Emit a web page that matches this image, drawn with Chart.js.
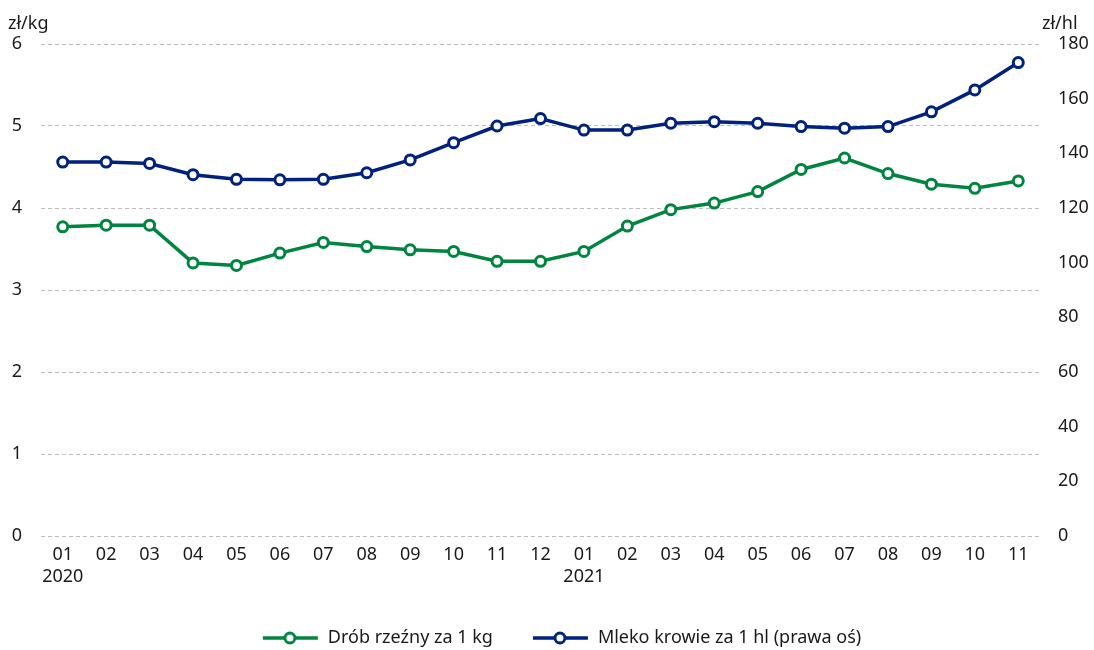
<!DOCTYPE html>
<html>
<head>
<meta charset="utf-8">
<script src="https://cdn.jsdelivr.net/npm/chart.js@4"></script>
<style>
  body { margin: 0; background: #fff; }
  #box { width: 1094px; height: 650px; }
</style>
</head>
<body>
<div id="box"><canvas id="myChart"></canvas></div>
<script>
// months on the x axis (second line = year)
var months = [
  ['01', '2020'], '02', '03', '04', '05', '06', '07', '08', '09', '10', '11', '12',
  ['01', '2021'], '02', '03', '04', '05', '06', '07', '08', '09', '10', '11'
];

// left axis, zl per kg
var drob = [3.77, 3.79, 3.79, 3.33, 3.30, 3.45, 3.58, 3.53, 3.49, 3.47, 3.35, 3.35,
            3.47, 3.78, 3.98, 4.06, 4.20, 4.47, 4.61, 4.42, 4.29, 4.24, 4.33];

// right axis, zl per hl
var mleko = [136.8, 136.8, 136.3, 132.2, 130.5, 130.3, 130.5, 132.9, 137.6, 143.9, 150.0, 152.7,
             148.5, 148.5, 151.0, 151.6, 151.0, 149.8, 149.2, 149.8, 155.2, 163.2, 173.2];

var leftTicks = [0, 1, 2, 3, 4, 5, 6];
var rightTicks = [0, 20, 40, 60, 80, 100, 120, 140, 160, 180];

var green = '#008540';
var navy = '#00217d';
var FONT = '"Noto Sans", sans-serif';

// small picture for the legend: line with an open circle
// (blank space on the left makes the gap between the two items)
function legendIcon(color) {
  var c = document.createElement('canvas');
  c.width = 86;
  c.height = 16;
  var g = c.getContext('2d');
  g.strokeStyle = color;
  g.lineWidth = 3.5;
  g.beginPath();
  g.moveTo(30, 8);
  g.lineTo(85, 8);
  g.stroke();
  g.beginPath();
  g.arc(57, 8, 5, 0, Math.PI * 2);
  g.fillStyle = '#fff';
  g.fill();
  g.lineWidth = 3;
  g.stroke();
  return c;
}

// unit labels above the two y axes
var unitLabels = {
  id: 'unitLabels',
  afterDraw: function (chart) {
    var ctx = chart.ctx;
    ctx.save();
    ctx.font = '18px ' + FONT;
    ctx.fillStyle = '#1a1a1a';
    ctx.textBaseline = 'alphabetic';
    ctx.textAlign = 'left';
    ctx.fillText('zł/kg', 8, 29);
    ctx.fillText('zł/hl', 1042, 29);
    ctx.restore();
  }
};

Chart.defaults.font.family = FONT;
Chart.defaults.font.size = 18;
Chart.defaults.color = '#1a1a1a';

var data = {
  labels: months,
  datasets: [{
    label: 'Drób rzeźny za 1 kg',
    data: drob,
    yAxisID: 'y',
    borderColor: green,
    backgroundColor: '#fff',
    pointBorderColor: green,
    pointBackgroundColor: '#fff',
    borderWidth: 3.5,
    pointRadius: 5,
    pointBorderWidth: 3,
    tension: 0
  }, {
    label: 'Mleko krowie za 1 hl (prawa oś)',
    data: mleko,
    yAxisID: 'y2',
    borderColor: navy,
    backgroundColor: '#fff',
    pointBorderColor: navy,
    pointBackgroundColor: '#fff',
    borderWidth: 3.5,
    pointRadius: 5,
    pointBorderWidth: 3,
    tension: 0
  }]
};

var config = {
  type: 'line',
  data: data,
  plugins: [unitLabels],
  options: {
    responsive: true,
    maintainAspectRatio: false,
    animation: false,
    layout: { padding: { top: 44, left: 0, right: 0, bottom: 1 } },
    plugins: {
      tooltip: { enabled: false },
      legend: {
        position: 'bottom',
        maxHeight: 30,
        labels: {
          usePointStyle: true,
          pointStyleWidth: 86,
          padding: 10,
          generateLabels: function (chart) {
            return chart.data.datasets.map(function (ds, i) {
              return {
                text: ds.label,
                pointStyle: legendIcon(ds.borderColor),
                datasetIndex: i,
                fontColor: '#1a1a1a',
                lineWidth: 0,
                strokeStyle: 'transparent',
                fillStyle: 'transparent'
              };
            });
          }
        }
      }
    },
    scales: {
      x: {
        offset: true,
        grid: { display: false, drawTicks: false },
        border: { display: false },
        afterFit: function (axis) { axis.height = 83; },
        ticks: { padding: 8, maxRotation: 0, autoSkip: false }
      },
      y: {
        position: 'left',
        min: 0,
        max: 6,
        afterBuildTicks: function (axis) {
          axis.ticks = leftTicks.map(function (v) { return { value: v }; });
        },
        afterFit: function (axis) { axis.width = 41; },
        grid: { color: '#bdbdbd', lineWidth: 1, drawTicks: false },
        border: { display: false, dash: [4, 3] },
        ticks: { padding: 19 }
      },
      y2: {
        position: 'right',
        min: 0,
        max: 180,
        afterBuildTicks: function (axis) {
          axis.ticks = rightTicks.map(function (v) { return { value: v }; });
        },
        afterFit: function (axis) { axis.width = 54; },
        grid: { display: false, drawTicks: false },
        border: { display: false },
        ticks: { padding: 18 }
      }
    }
  }
};

var graph = new Chart(document.getElementById('myChart'), config);
</script>
</body>
</html>
